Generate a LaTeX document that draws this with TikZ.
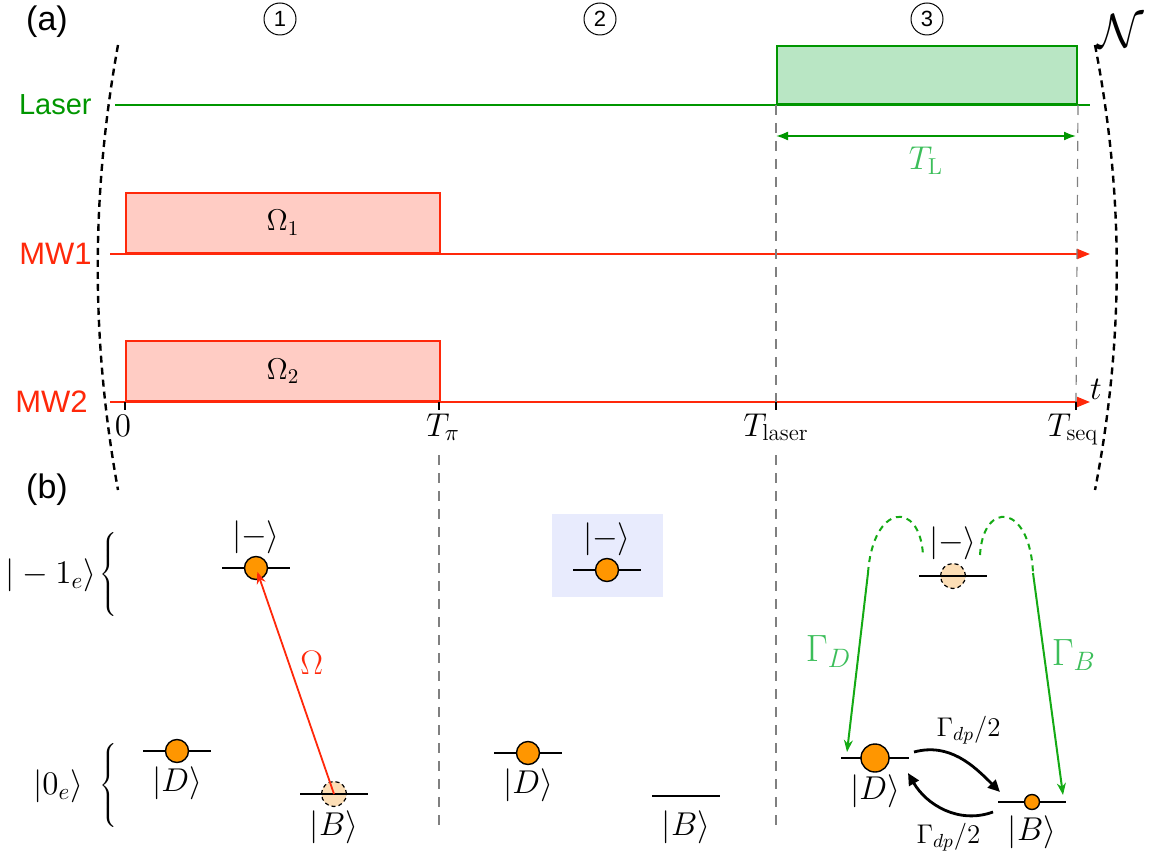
\documentclass[tikz,border=0pt]{standalone}
\usepackage{fix-cm}
\usepackage{fontspec}
\setsansfont{Liberation Sans}
\usetikzlibrary{arrows.meta,positioning,calc}

\definecolor{lasergreen}{RGB}{0,150,0}
\definecolor{pulsegreen}{RGB}{185,230,196}
\definecolor{decaygreen}{RGB}{20,170,20}
\definecolor{gammagreen}{RGB}{60,190,90}
\definecolor{mwred}{RGB}{255,40,10}
\definecolor{pulsered}{RGB}{255,204,196}
\definecolor{popfill}{RGB}{255,150,0}
\definecolor{ghostfill}{RGB}{252,222,182}
\definecolor{boxblue}{RGB}{232,235,253}

\tikzstyle{sig} = [font=\sffamily\fontsize{14.5}{17}\selectfont, anchor=east, inner sep=0pt]
\tikzstyle{panel} = [font=\sffamily\fontsize{17}{20}\selectfont]
\tikzstyle{stepnum} = [circle, draw, line width=0.5pt, minimum size=16pt, inner sep=0pt, font=\sffamily\fontsize{11}{13}\selectfont]
\tikzstyle{laserpulse} = [rectangle, draw=lasergreen, fill=pulsegreen, line width=1pt, minimum width=150pt, minimum height=29pt, anchor=south west]
\tikzstyle{mwpulse} = [rectangle, draw=mwred, fill=pulsered, line width=1pt, minimum width=157pt, minimum height=30pt, anchor=south west, font=\fontsize{15}{18}\selectfont]
\tikzstyle{laserline} = [lasergreen, line width=1pt]
\tikzstyle{mwline} = [mwred, line width=1pt, -{Triangle[length=6.5pt,width=5pt]}]
\tikzstyle{tick} = [black, line width=1pt]
\tikzstyle{guide} = [gray, line width=0.6pt, dash pattern=on 5pt off 4pt]
\tikzstyle{bracket} = [black, line width=1.2pt, dash pattern=on 3.5pt off 2.5pt]
\tikzstyle{span} = [lasergreen, line width=0.9pt, {Latex[length=6pt,width=4.5pt]}-{Latex[length=6pt,width=4.5pt]}]
\tikzstyle{lvl} = [minimum width=34pt, minimum height=0pt, inner sep=0pt, outer sep=0pt]
\tikzstyle{levelline} = [black, line width=1pt]
\tikzstyle{pop} = [circle, draw, fill=popfill, line width=0.7pt, inner sep=0pt, minimum size=11.5pt]
\tikzstyle{ghost} = [circle, draw, fill=ghostfill, line width=0.6pt, dash pattern=on 2pt off 1.5pt, inner sep=0pt, minimum size=12.5pt]
\tikzstyle{ket} = [inner sep=1pt]
\tikzstyle{drive} = [mwred, line width=0.9pt, -{Stealth[length=6pt,width=4.5pt]}]
\tikzstyle{decay} = [decaygreen, line width=1pt, -{Stealth[length=6pt,width=4.5pt]}]
\tikzstyle{decayarc} = [decaygreen, line width=1pt, dash pattern=on 3pt off 2.5pt]
\tikzstyle{hop} = [black, line width=1.4pt, -{Triangle[length=6pt,width=5.5pt]}]

\begin{document}
\begin{tikzpicture}[x=0.5pt, y=-0.5pt, font=\fontsize{16.5}{20}\selectfont]
	\useasboundingbox (0,0) rectangle (1156,861);

	% panel labels and steps
	\node[panel] (pa) at (47,22) {(a)};
	\node[panel] (pb) at (47,490) {(b)};
	\node[stepnum] (st1) at (280,19) {1};
	\node[stepnum] (st2) at (600,19) {2};
	\node[stepnum] (st3) at (927,19) {3};
	\node[inner sep=0pt, font=\fontsize{24}{28}\selectfont] (norm) at (1121,31) {$\mathcal{N}$};

	% repetition brackets
	\draw[bracket] (118,45) .. controls (91,195) and (91,340) .. (118,490);
	\draw[bracket] (1095,45) .. controls (1124,195) and (1124,340) .. (1095,490);

	% pulses
	\node[laserpulse] (lpulse) at (776,105) {};
	\node[mwpulse] (mwA) at (125,254) {$\Omega_1$};
	\node[mwpulse] (mwB) at (125,402) {$\Omega_2$};

	% signal lines
	\coordinate (lasL) at (115,105);
	\coordinate (lasR) at (1090,105);
	\coordinate (mwAL) at (110,254);
	\coordinate (mwAR) at (1090,254);
	\coordinate (mwBL) at (110,402);
	\coordinate (mwBR) at (1090,402);
	\draw[laserline] (lasL) -- (lasR);
	\draw[mwline] (mwAL) -- (mwAR);
	\draw[mwline] (mwBL) -- (mwBR);
	\node[sig, lasergreen] (lLaser) at (92,105) {Laser};
	\node[sig, mwred, font=\sffamily\fontsize{15.5}{18}\selectfont] (lMWA) at (92,254) {MW1};
	\node[sig, mwred, font=\sffamily\fontsize{15.5}{18}\selectfont] (lMWB) at (88,402) {MW2};

	% time axis
	\foreach \x/\n in {125/t0, 439/tpi, 776/tlas, 1076/tseq}
		\draw[tick] (\x,402) coordinate (\n) -- ++(0,8);
	\node[anchor=base] (l0) at (123,436) {$0$};
	\node[anchor=base] (lpi) at (443,436) {$T_\pi$};
	\node[anchor=base] (llas) at (776,436) {$T_\mathrm{laser}$};
	\node[anchor=base] (lseq) at (1073,436) {$T_\mathrm{seq}$};
	\node[anchor=base] (lt) at (1096,399) {$t$};

	% guides
	\coordinate (gpiA) at (439,455);
	\coordinate (gpiB) at (439,830);
	\coordinate (glasA) at (776,455);
	\coordinate (glasB) at (776,830);
	\draw[guide] (lpulse.south west) -- (tlas);
	\draw[guide] (lpulse.south east) -- (tseq);
	\draw[guide] (gpiA) -- (gpiB);
	\draw[guide] (glasA) -- (glasB);

	% laser duration
	\coordinate (tlA) at (776,136);
	\coordinate (tlB) at (1076,136);
	\draw[span] (tlA) -- (tlB) node[midway, below=1.5pt, gammagreen, font=\fontsize{16.5}{20}\selectfont] {$T_\mathrm{L}$};

	% (b) manifolds
	\node[inner sep=0pt] (brM) at (110,575) {$\left\{\vrule height 24pt depth 17pt width 0pt\right.$};
	\node[ket, inner sep=0pt, left=1.5pt of brM] (kM) {$|-1_e\rangle$};
	\node[inner sep=0pt] (brZ) at (110,786) {$\left\{\vrule height 24pt depth 17pt width 0pt\right.$};
	\node[ket, inner sep=0pt, left=8pt of brZ] (kZ) {$|0_e\rangle$};

	% emptied populations
	\node[ghost] (b1dot) at (334,794) {};
	\node[ghost] (m3dot) at (953,576) {};

	% levels
	\foreach \n/\x/\y in {m1/256/568, d1/177/751, b1/334/794, m2/607/570, d2/528/753, b2/686/796, m3/953/576, d3/875/758, b3/1032/802} {
		\node[lvl] (\n) at (\x,\y) {};
		\draw[levelline] (\n.west) -- (\n.east);
	}
	\node[fill=boxblue, minimum width=55.5pt, minimum height=41.5pt] (cbox) at (607.5,555.5) {};
	\draw[levelline] (m2.west) -- (m2.east);

	% populations
	\node[pop] (m1dot) at (m1) {};
	\node[pop] (d1dot) at (d1) {};
	\node[pop] (m2dot) at (m2) {};
	\node[pop] (d2dot) at (d2) {};
	\node[pop, minimum size=14pt] (d3dot) at (d3) {};
	\node[pop, minimum size=7.5pt] (b3dot) at (b3) {};

	% state labels
	\node[ket, above=6pt of m1] (m1k) {$|-\rangle$};
	\node[ket, below=6.5pt of d1] (d1k) {$|D\rangle$};
	\node[ket, below=7pt of b1] (b1k) {$|B\rangle$};
	\node[ket, above=6pt of m2] (m2k) {$|-\rangle$};
	\node[ket, below=6.5pt of d2] (d2k) {$|D\rangle$};
	\node[ket, below=6pt of b2] (b2k) {$|B\rangle$};
	\node[ket, above=7pt of m3] (m3k) {$|-\rangle$};
	\node[ket, below=7pt of d3] (d3k) {$|D\rangle$};
	\node[ket, below=5.5pt of b3] (b3k) {$|B\rangle$};

	% step 1: microwave drive
	\draw[drive, shorten >=2pt] (b1dot.center) -- (m1dot.center) node[pos=0.58, right=2pt, mwred, font=\fontsize{17}{20}\selectfont] {$\Omega$};

	% step 3: optical pumping
	\coordinate (gDtop) at (868,573);
	\coordinate (gDend) at (923,555);
	\coordinate (gBend) at (980,555);
	\coordinate (gBtop) at (1033,573);
	\draw[decayarc] (gDtop) .. controls (873,503) and (920,500) .. (gDend);
	\draw[decayarc] (gBend) .. controls (983,500) and (1030,503) .. (gBtop);
	\draw[decay] (gDtop) -- ($(d3.west)+(6,-6)$) node[pos=0.44, left=0pt, gammagreen, font=\fontsize{19}{22}\selectfont] {$\Gamma_D$};
	\draw[decay] (gBtop) -- ($(b3.east)+(-3,-7)$) node[pos=0.37, right=0pt, gammagreen, font=\fontsize{19}{22}\selectfont] {$\Gamma_B$};
	\draw[hop] ($(d3.east)+(5,-6)$) to[out=15, in=135] node[pos=0.5, above=3pt, xshift=4pt, font=\fontsize{13.5}{16}\selectfont] {$\Gamma_{dp}/2$} ($(b3.west)+(2,-10)$);
	\draw[hop] ($(b3.west)+(-5,10)$) to[out=200, in=-60] node[pos=0.5, below=3pt, xshift=2pt, font=\fontsize{13.5}{16}\selectfont] {$\Gamma_{dp}/2$} ($(d3.east)+(-1,15)$);

\end{tikzpicture}
\end{document}
